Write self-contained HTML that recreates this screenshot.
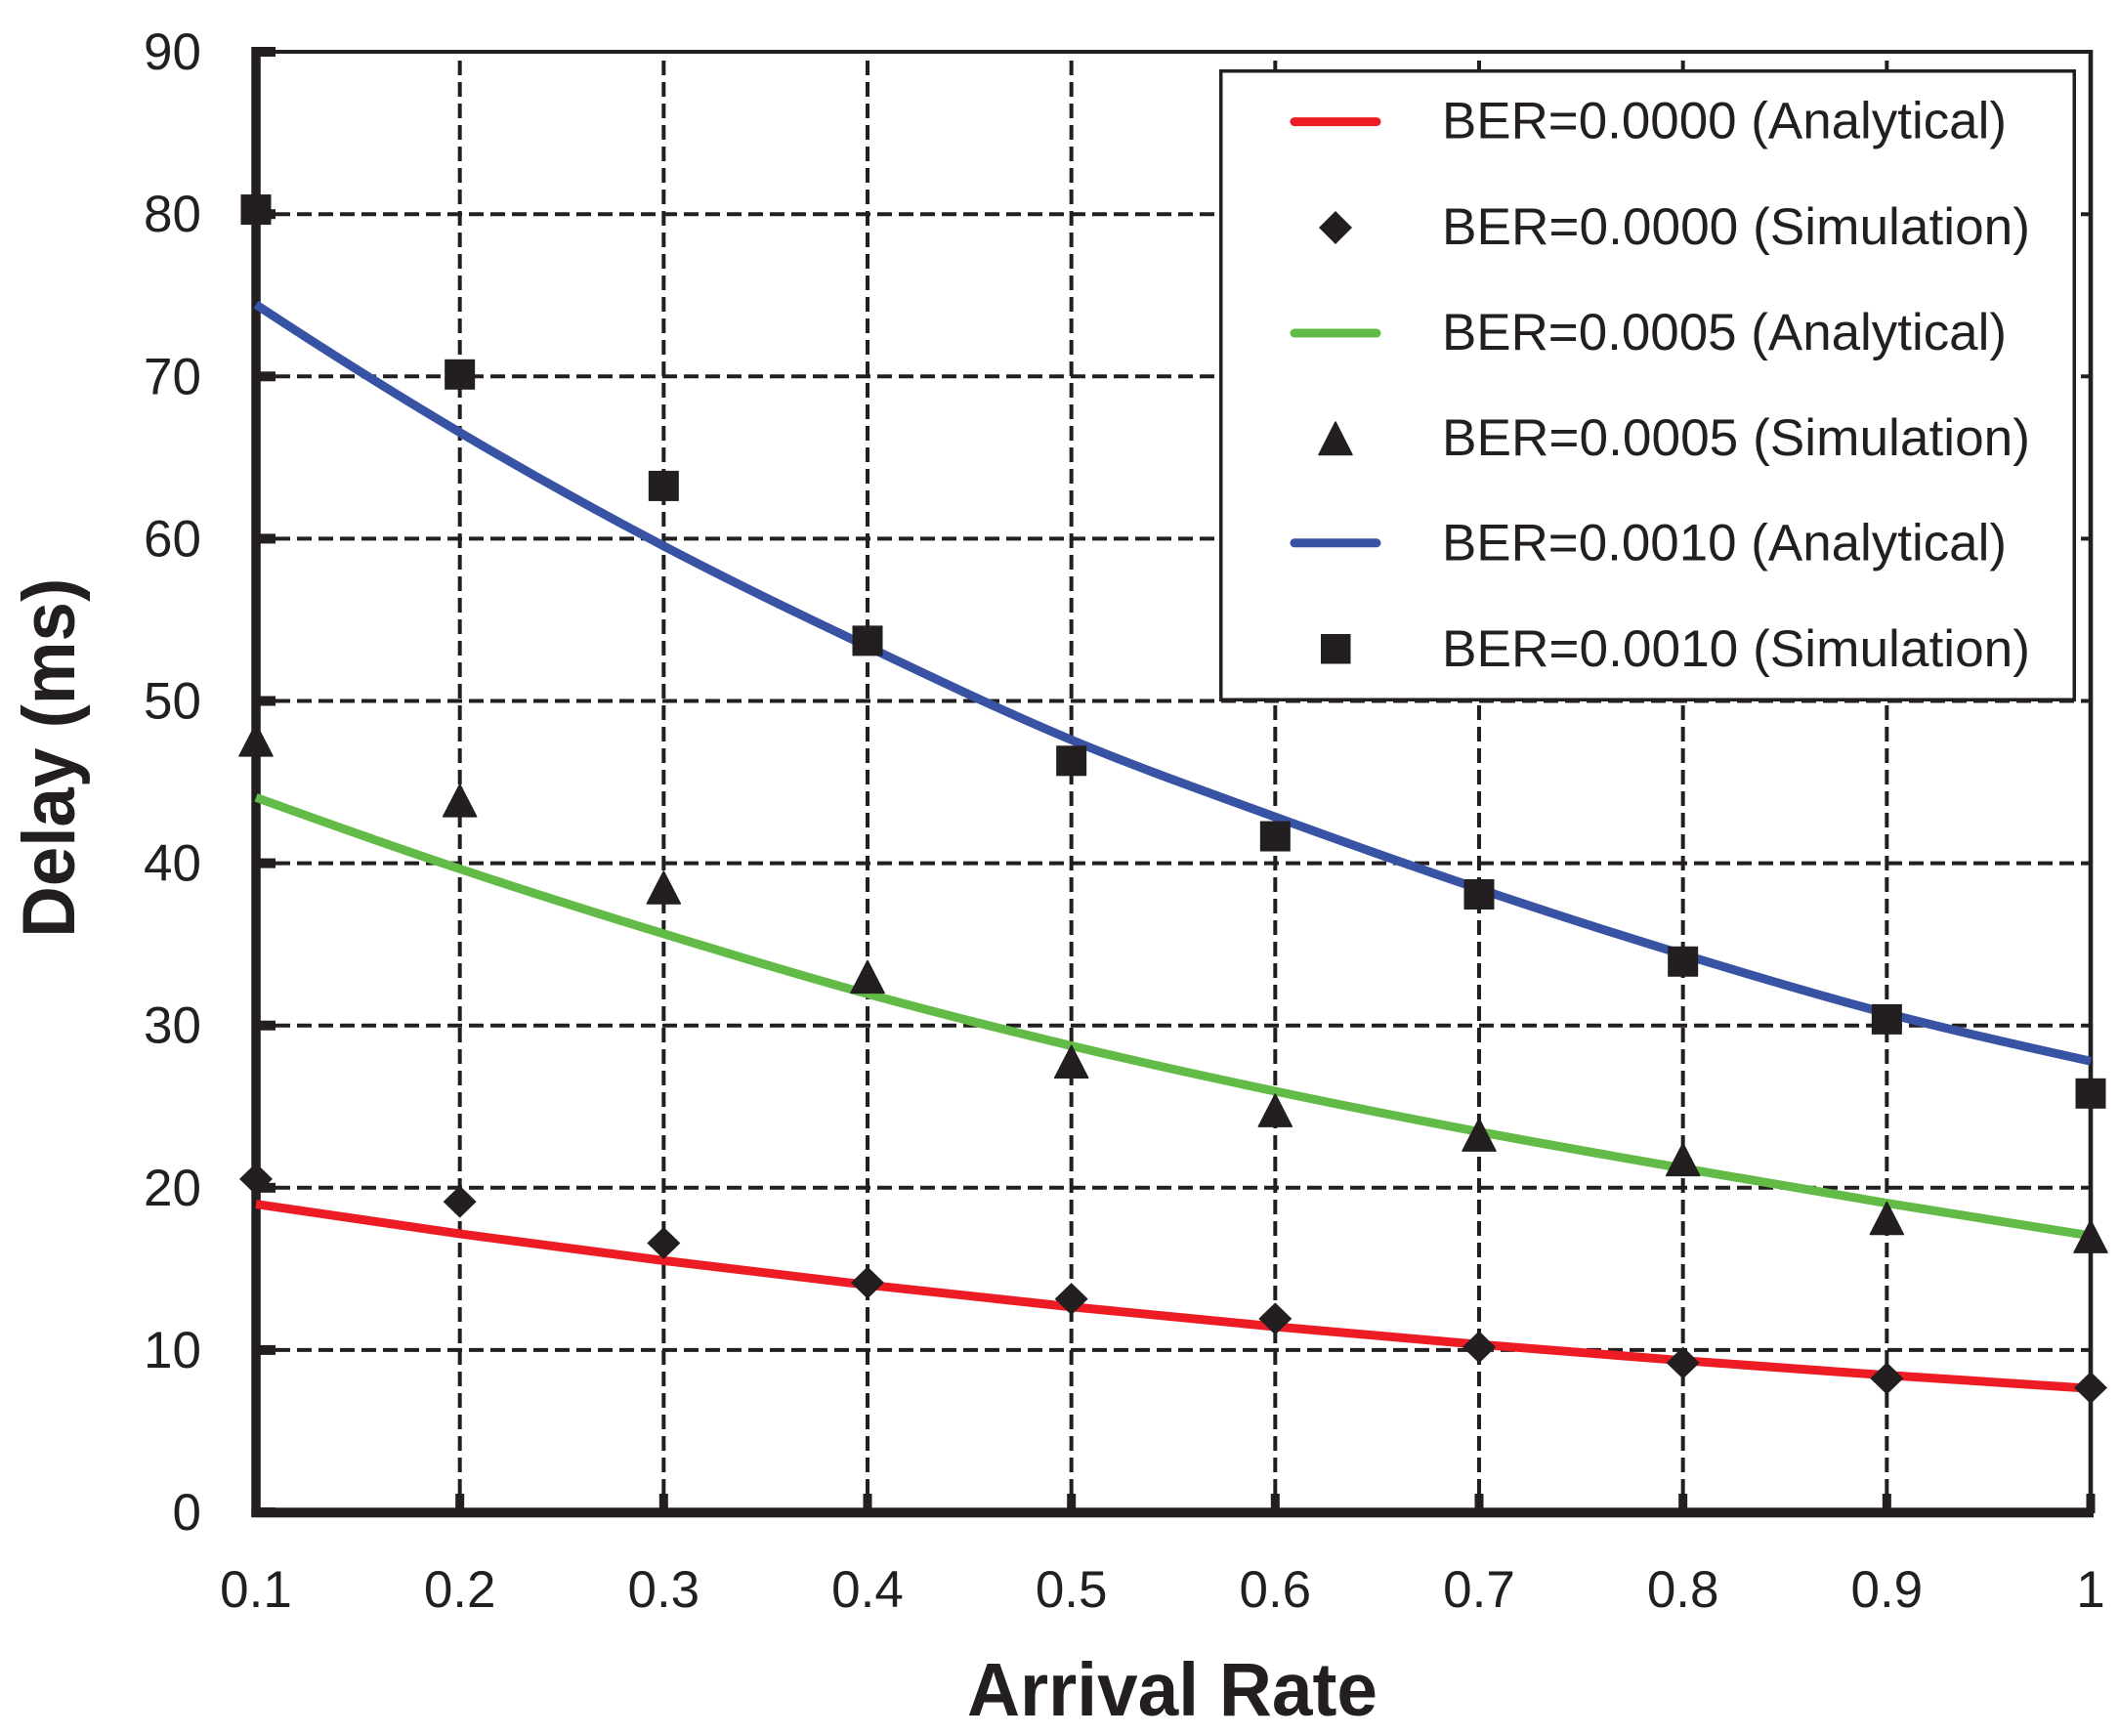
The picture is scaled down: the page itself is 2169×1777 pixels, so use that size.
<!DOCTYPE html>
<html>
<head>
<meta charset="utf-8">
<style>
  html, body { margin: 0; padding: 0; background: #ffffff; }
  svg { display: block; }
  text { font-family: "Liberation Sans", sans-serif; fill: #231F20; }
</style>
</head>
<body>
<svg width="2169" height="1777" viewBox="0 0 2169 1777" xmlns="http://www.w3.org/2000/svg">
  <rect x="0" y="0" width="2169" height="1777" fill="#ffffff"/>

  <!-- horizontal dashed gridlines -->
  <g stroke="#231F20" stroke-width="4" stroke-dasharray="15 7" fill="none">
    <line x1="282" y1="1381.9" x2="2138" y2="1381.9"/>
    <line x1="282" y1="1215.8" x2="2138" y2="1215.8"/>
    <line x1="282" y1="1049.7" x2="2138" y2="1049.7"/>
    <line x1="282" y1="883.6" x2="2138" y2="883.6"/>
    <line x1="282" y1="717.5" x2="2138" y2="717.5"/>
    <line x1="282" y1="551.4" x2="2138" y2="551.4"/>
    <line x1="282" y1="385.3" x2="2138" y2="385.3"/>
    <line x1="282" y1="219.2" x2="2138" y2="219.2"/>
  </g>
  <!-- vertical dashed gridlines -->
  <g stroke="#231F20" stroke-width="4" stroke-dasharray="15 7" fill="none">
    <line x1="470.67" y1="1529" x2="470.67" y2="55"/>
    <line x1="679.33" y1="1529" x2="679.33" y2="55"/>
    <line x1="888" y1="1529" x2="888" y2="55"/>
    <line x1="1096.67" y1="1529" x2="1096.67" y2="55"/>
    <line x1="1305.33" y1="1529" x2="1305.33" y2="55"/>
    <line x1="1514" y1="1529" x2="1514" y2="55"/>
    <line x1="1722.67" y1="1529" x2="1722.67" y2="55"/>
    <line x1="1931.33" y1="1529" x2="1931.33" y2="55"/>
  </g>

  <!-- frame: top and right thin -->
  <rect x="262" y="51" width="1880" height="4" fill="#231F20"/>
  <rect x="2137.7" y="51" width="4.6" height="1500" fill="#231F20"/>

  <!-- axes thick -->
  <rect x="257.3" y="48" width="9.5" height="1505" fill="#231F20"/>
  <rect x="257.3" y="1543.3" width="1885.7" height="10" fill="#231F20"/>

  <!-- left ticks -->
  <g fill="#231F20">
    <rect x="262" y="1543" width="20" height="10"/>
    <rect x="262" y="1376.9" width="20" height="10"/>
    <rect x="262" y="1210.8" width="20" height="10"/>
    <rect x="262" y="1044.7" width="20" height="10"/>
    <rect x="262" y="878.6" width="20" height="10"/>
    <rect x="262" y="712.5" width="20" height="10"/>
    <rect x="262" y="546.4" width="20" height="10"/>
    <rect x="262" y="380.3" width="20" height="10"/>
    <rect x="262" y="214.2" width="20" height="10"/>
    <rect x="262" y="48" width="20" height="10"/>
  </g>
  <!-- bottom ticks -->
  <g fill="#231F20">
    <rect x="466.17" y="1529" width="9" height="20"/>
    <rect x="674.83" y="1529" width="9" height="20"/>
    <rect x="883.5" y="1529" width="9" height="20"/>
    <rect x="1092.17" y="1529" width="9" height="20"/>
    <rect x="1300.83" y="1529" width="9" height="20"/>
    <rect x="1509.5" y="1529" width="9" height="20"/>
    <rect x="1718.17" y="1529" width="9" height="20"/>
    <rect x="1926.83" y="1529" width="9" height="20"/>
    <rect x="2135.5" y="1529" width="9" height="20"/>
  </g>

  <!-- curves -->
  <g fill="none" stroke-width="9" stroke-linecap="butt" stroke-linejoin="round">
    <path stroke="#3953A4" d="M262,311.72 C331.56,357.56 401.11,401.41 470.67,442.60 C540.23,483.79 609.77,522.33 679.33,558.87 C748.89,595.41 818.44,628.78 888,661.86 C957.56,694.94 1027.11,728.29 1096.67,757.36 C1166.23,786.43 1235.77,810.85 1305.33,836.26 C1374.89,861.67 1444.44,886.39 1514,909.84 C1583.56,933.29 1653.11,955.72 1722.67,976.95 C1792.23,998.18 1861.77,1019.02 1931.33,1037.24 C2000.89,1055.46 2070.44,1071.03 2140,1086.24"/>
    <path stroke="#62BB46" d="M262,816.33 C331.56,841.51 401.11,866.16 470.67,889.41 C540.23,912.66 609.77,934.53 679.33,955.85 C748.89,977.17 818.44,998.21 888,1017.31 C957.56,1036.41 1027.11,1053.85 1096.67,1070.46 C1166.23,1087.07 1235.77,1102.30 1305.33,1116.97 C1374.89,1131.64 1444.44,1145.35 1514,1158.50 C1583.56,1171.65 1653.11,1183.69 1722.67,1195.87 C1792.23,1208.05 1861.77,1220.06 1931.33,1231.58 C2000.89,1243.10 2070.44,1254.11 2140,1264.97"/>
    <path stroke="#ED1C24" d="M262,1232.58 C331.56,1243.12 401.11,1253.34 470.67,1262.97 C540.23,1272.60 609.77,1281.66 679.33,1290.38 C748.89,1299.10 818.44,1307.40 888,1315.29 C957.56,1323.18 1027.11,1330.60 1096.67,1337.72 C1166.23,1344.84 1235.77,1351.56 1305.33,1357.98 C1374.89,1364.40 1444.44,1370.46 1514,1376.25 C1583.56,1382.04 1653.11,1387.47 1722.67,1392.70 C1792.23,1397.93 1861.77,1402.89 1931.33,1407.65 C2000.89,1412.41 2070.44,1416.98 2140,1421.27"/>
  </g>

  <!-- squares -->
  <g fill="#231F20">
    <rect x="246.5" y="199.05" width="31" height="31"/>
    <rect x="455.17" y="367.81" width="31" height="31"/>
    <rect x="663.83" y="481.92" width="31" height="31"/>
    <rect x="872.5" y="640.38" width="31" height="31"/>
    <rect x="1081.17" y="763.29" width="31" height="31"/>
    <rect x="1289.83" y="840.53" width="31" height="31"/>
    <rect x="1498.5" y="899.99" width="31" height="31"/>
    <rect x="1707.17" y="968.76" width="31" height="31"/>
    <rect x="1915.83" y="1027.89" width="31" height="31"/>
    <rect x="2124.5" y="1103.8" width="31" height="31"/>
  </g>

  <!-- triangles -->
  <g fill="#231F20" stroke="#231F20" stroke-width="1.5" stroke-linejoin="round">
    <polygon points="262,740.86 279,773.86 245,773.86"/>
    <polygon points="470.67,802.82 487.67,835.82 453.67,835.82"/>
    <polygon points="679.33,892.01 696.33,925.01 662.33,925.01"/>
    <polygon points="888,983.37 905,1016.37 871,1016.37"/>
    <polygon points="1096.67,1070.24 1113.67,1103.24 1079.67,1103.24"/>
    <polygon points="1305.33,1120.07 1322.33,1153.07 1288.33,1153.07"/>
    <polygon points="1514,1145.15 1531,1178.15 1497,1178.15"/>
    <polygon points="1722.67,1170.4 1739.67,1203.4 1705.67,1203.4"/>
    <polygon points="1931.33,1230.53 1948.33,1263.53 1914.33,1263.53"/>
    <polygon points="2140,1249.13 2157,1282.13 2123,1282.13"/>
  </g>

  <!-- diamonds -->
  <g fill="#231F20">
    <polygon points="262,1190.33 279,1206.83 262,1223.33 245,1206.83"/>
    <polygon points="470.67,1213.58 487.67,1230.08 470.67,1246.58 453.67,1230.08"/>
    <polygon points="679.33,1255.94 696.33,1272.44 679.33,1288.94 662.33,1272.44"/>
    <polygon points="888,1296.47 905,1312.97 888,1329.47 871,1312.97"/>
    <polygon points="1096.67,1313.08 1113.67,1329.58 1096.67,1346.08 1079.67,1329.58"/>
    <polygon points="1305.33,1333.34 1322.33,1349.84 1305.33,1366.34 1288.33,1349.84"/>
    <polygon points="1514,1362.41 1531,1378.91 1514,1395.41 1497,1378.91"/>
    <polygon points="1722.67,1378.52 1739.67,1395.02 1722.67,1411.52 1705.67,1395.02"/>
    <polygon points="1931.33,1394.47 1948.33,1410.97 1931.33,1427.47 1914.33,1410.97"/>
    <polygon points="2140,1403.94 2157,1420.44 2140,1436.94 2123,1420.44"/>
  </g>

  <!-- legend -->
  <rect x="1249.75" y="72.75" width="873.5" height="643.5" fill="#ffffff" stroke="#231F20" stroke-width="3.5"/>
  <g stroke-width="9" stroke-linecap="round">
    <line x1="1325" y1="124.6" x2="1409" y2="124.6" stroke="#ED1C24"/>
    <line x1="1325" y1="341" x2="1409" y2="341" stroke="#62BB46"/>
    <line x1="1325" y1="555.8" x2="1409" y2="555.8" stroke="#3953A4"/>
  </g>
  <g fill="#231F20">
    <polygon points="1367,216 1384,233 1367,250 1350,233"/>
    <polygon points="1367,432 1384,465.5 1350,465.5" stroke="#231F20" stroke-width="1.5" stroke-linejoin="round"/>
    <rect x="1352" y="649" width="30.5" height="30.5"/>
  </g>
  <g font-size="53">
    <text x="1476" y="141.5" textLength="578" lengthAdjust="spacingAndGlyphs">BER=0.0000 (Analytical)</text>
    <text x="1476" y="250" textLength="602" lengthAdjust="spacingAndGlyphs">BER=0.0000 (Simulation)</text>
    <text x="1476" y="358" textLength="578" lengthAdjust="spacingAndGlyphs">BER=0.0005 (Analytical)</text>
    <text x="1476" y="466" textLength="602" lengthAdjust="spacingAndGlyphs">BER=0.0005 (Simulation)</text>
    <text x="1476" y="573.5" textLength="578" lengthAdjust="spacingAndGlyphs">BER=0.0010 (Analytical)</text>
    <text x="1476" y="682" textLength="602" lengthAdjust="spacingAndGlyphs">BER=0.0010 (Simulation)</text>
  </g>

  <!-- y tick labels -->
  <g font-size="53" text-anchor="end">
    <text x="206" y="1566">0</text>
    <text x="206" y="1399.9">10</text>
    <text x="206" y="1233.8">20</text>
    <text x="206" y="1067.7">30</text>
    <text x="206" y="901.6">40</text>
    <text x="206" y="735.5">50</text>
    <text x="206" y="569.4">60</text>
    <text x="206" y="403.3">70</text>
    <text x="206" y="237.2">80</text>
    <text x="206" y="71">90</text>
  </g>

  <!-- x tick labels -->
  <g font-size="53" text-anchor="middle">
    <text x="262" y="1645">0.1</text>
    <text x="470.67" y="1645">0.2</text>
    <text x="679.33" y="1645">0.3</text>
    <text x="888" y="1645">0.4</text>
    <text x="1096.67" y="1645">0.5</text>
    <text x="1305.33" y="1645">0.6</text>
    <text x="1514" y="1645">0.7</text>
    <text x="1722.67" y="1645">0.8</text>
    <text x="1931.33" y="1645">0.9</text>
    <text x="2140" y="1645">1</text>
  </g>

  <!-- axis titles -->
  <text x="1200" y="1756" font-size="77" font-weight="bold" text-anchor="middle" textLength="420" lengthAdjust="spacingAndGlyphs">Arrival Rate</text>
  <text transform="translate(76,775.8) rotate(-90)" font-size="76" font-weight="bold" text-anchor="middle" textLength="368" lengthAdjust="spacingAndGlyphs">Delay (ms)</text>
</svg>
</body>
</html>
